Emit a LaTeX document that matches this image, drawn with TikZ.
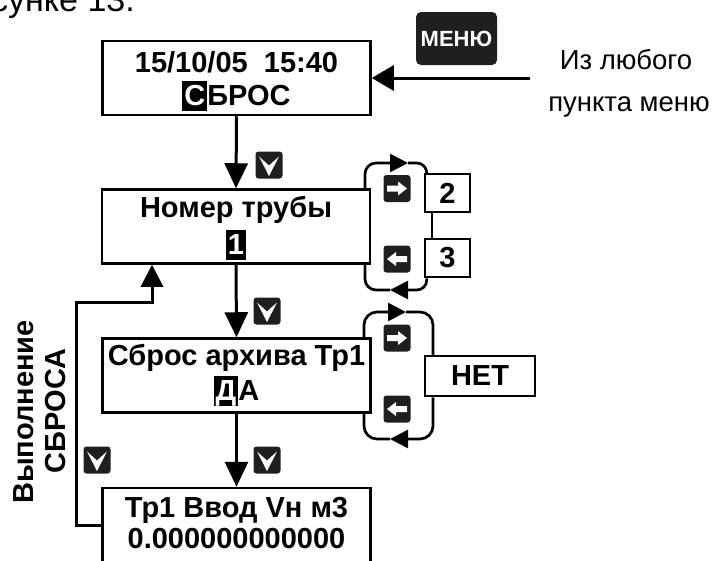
\documentclass[tikz,border=0pt]{standalone}
\usepackage{fontspec}
\setmainfont{Liberation Sans}
\usetikzlibrary{arrows.meta}
\newcommand{\hlbox}[1]{{\setlength{\fboxsep}{0pt}\colorbox{black}{\hspace{2pt}\textcolor{white}{#1}\rule[-6pt]{0pt}{30pt}\hspace{2pt}}}}
\tikzset{
  screen/.style={draw, line width=2.5pt, inner sep=0pt, minimum width=268pt, minimum height=74pt},
  stext/.style={anchor=base, inner sep=0pt, font=\fontsize{29}{33}\selectfont\bfseries},
  numbox/.style={draw, line width=2.5pt, inner sep=0pt, font=\fontsize{29}{33}\selectfont\bfseries},
  conn/.style={line width=3pt, -{Triangle[length=25pt,width=23pt]}},
  loopline/.style={line width=2.7pt},
  looptip/.style={line width=2.7pt, -{Triangle[length=18pt,width=18pt]}},
  key/.style={fill=black!88, rounded corners=3pt, minimum size=27pt, inner sep=0pt},
  downkey/.style={key, path picture={\fill[white,sharp corners] (path picture bounding box.center) ++(-10pt,8.5pt) -- ++(10pt,-19.5pt) -- ++(10pt,19.5pt) -- ++(-10pt,-9pt) -- cycle;}},
  rightkey/.style={key, path picture={\fill[white,sharp corners] (path picture bounding box.center) ++(-10pt,3pt) -- ++(11pt,0pt) -- ++(0pt,4pt) -- ++(9pt,-7pt) -- ++(-9pt,-7pt) -- ++(0pt,4pt) -- ++(-11pt,0pt) -- cycle;}},
  leftkey/.style={key, path picture={\fill[white,sharp corners] (path picture bounding box.center) ++(10pt,3pt) -- ++(-11pt,0pt) -- ++(0pt,4pt) -- ++(-9pt,-7pt) -- ++(9pt,-7pt) -- ++(0pt,4pt) -- ++(11pt,0pt) -- cycle;}},
  plain/.style={anchor=base, inner sep=0pt, font=\fontsize{27.5}{30}\selectfont},
}
\begin{document}
\begin{tikzpicture}[x=1pt,y=-1pt]
\useasboundingbox (0,0) rectangle (720,560);
\clip (0,0) rectangle (720,560);

% cut-off caption line at top
\node[anchor=base east, inner sep=0pt, font=\fontsize{34}{34}\selectfont] (cap) at (135,11) {рисунке 13.};

% screens
\node[screen] (s1) at (236.5,78) {};
\node[stext] (s1a) at (236.5,72) {15/10/05\ \ 15:40};
\node[stext] (s1b) at (236.5,105) {\hlbox{С}БРОС};

\node[screen] (s2) at (236,226.5) {};
\node[stext] (s2a) at (236,217) {Номер трубы};
\node[stext] (s2b) at (236,254) {\hlbox{1}};

\node[screen] (s3) at (236.5,375.5) {};
\node[stext] (s3a) at (236.5,365) {Сброс архива Тр1};
\node[stext] (s3b) at (236.5,400) {\hlbox{Д}А};

\node[screen] (s4) at (236.5,525) {};
\node[stext] (s4a) at (236.5,517) {Тр1 Ввод Vн м3};
\node[stext] (s4b) at (236.5,548) {0.000000000000};

% menu key and text
\node[fill=black!88, rounded corners=5pt, minimum width=81pt, minimum height=53pt, inner sep=0pt,
      text=white, font=\fontsize{22}{22}\selectfont\bfseries] (menu) at (456.5,38.5) {МЕНЮ};
\node[plain] (from1) at (626,69) {Из любого};
\node[plain] (from2) at (629,111) {пункта меню};
\coordinate (m0) at (530,78);
\draw[line width=3pt, -{Triangle[length=22pt,width=25pt]}] (m0) -- (s1.east);

% main down arrows
\draw[conn] (s1.south) -- (s2.north);
\draw[conn] (s2.south) -- (s3.north);
\draw[conn] (s3.south) -- (s4.north);

% down keys
\node[downkey] (k1) at (269,165) {};
\node[downkey] (k2) at (267,311) {};
\node[downkey] (k3) at (267,460) {};
\node[downkey] (k4) at (97,460) {};

% feedback path
\coordinate (f1) at (76,302);
\draw[line width=3pt, -{Triangle[length=22pt,width=22pt]}] (s4.west) -| (f1) -| ([xshift=-84pt]s2.south);

% side label
\node[anchor=base, inner sep=0pt, rotate=90, font=\fontsize{29}{33}\selectfont\bfseries] (lab1) at (33,412) {Выполнение};
\node[anchor=base, inner sep=0pt, rotate=90, font=\fontsize{29}{33}\selectfont\bfseries] (lab2) at (65,411) {СБРОСА};

% pipe number loop
\node[numbox, minimum width=45pt, minimum height=38pt] (n2) at (447.5,193) {2};
\node[numbox, minimum width=45pt, minimum height=38pt] (n3) at (447.5,258) {3};
\draw[line width=2.7pt] ([xshift=-15.5pt]n2.south) -- ([xshift=-15.5pt]n3.north);
\coordinate (l2a) at (365,188);
\coordinate (l2t) at (408,163);
\coordinate (l2b) at (365,265);
\coordinate (l2bt) at (390,290);
\draw[looptip, rounded corners=11pt] (l2a) |- (l2t);
\draw[loopline, rounded corners=10pt] (l2t) -| ([xshift=3pt]n2.north west);
\draw[looptip, rounded corners=10pt] ([xshift=3pt]n3.south west) |- (l2bt);
\draw[loopline, rounded corners=11pt] (l2bt) -| (l2b);
\node[rightkey] (r2) at (397,188.5) {};
\node[leftkey] (q2) at (397,259) {};

% archive reset loop
\node[numbox, minimum width=110pt, minimum height=40pt] (net) at (480,376) {НЕТ};
\coordinate (l3a) at (364,338);
\coordinate (l3t) at (406,312);
\coordinate (l3b) at (364,413);
\coordinate (l3bt) at (390,439);
\draw[looptip, rounded corners=13pt] (l3a) |- (l3t);
\draw[loopline, rounded corners=13pt] (l3t) -| ([xshift=-47pt]net.north);
\draw[looptip, rounded corners=13pt] ([xshift=-47pt]net.south) |- (l3bt);
\draw[loopline, rounded corners=13pt] (l3bt) -| (l3b);
\node[rightkey] (r3) at (397,338) {};
\node[leftkey] (q3) at (397,409) {};
\end{tikzpicture}
\end{document}
